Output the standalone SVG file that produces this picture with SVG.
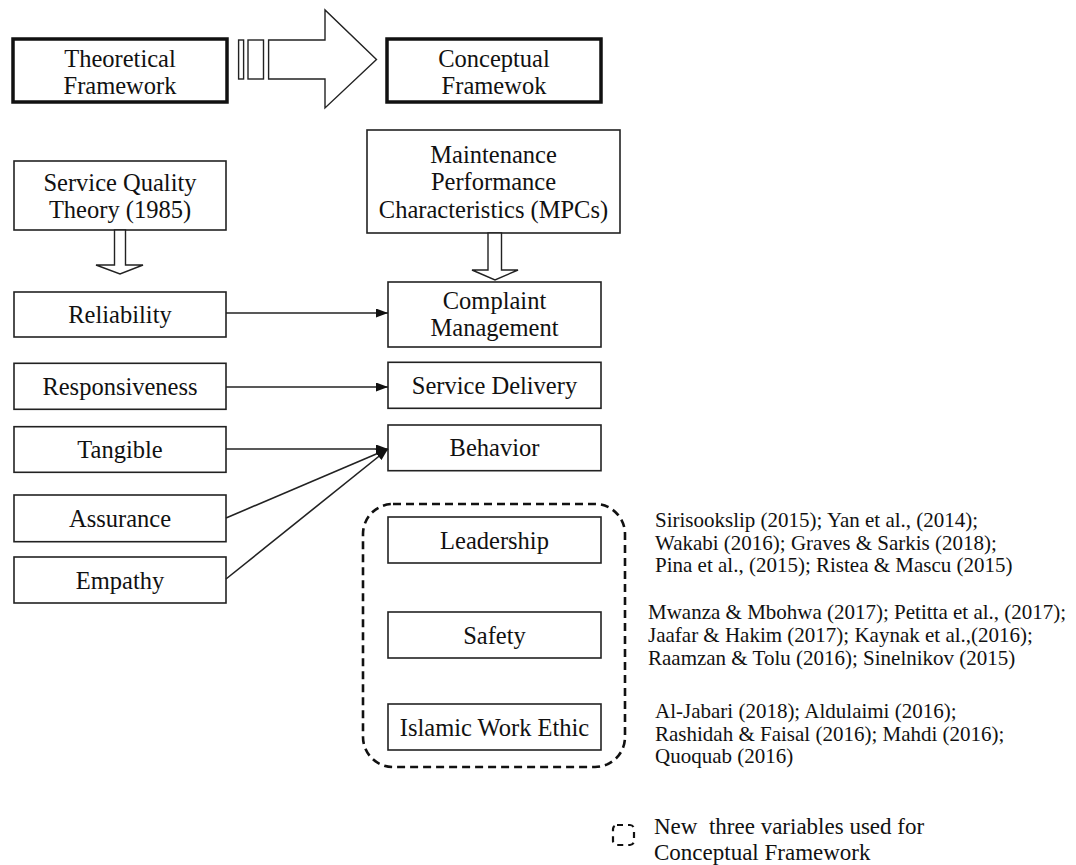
<svg xmlns="http://www.w3.org/2000/svg" width="1076" height="865" viewBox="0 0 1076 865">
<style>
.box{fill:#fff;stroke:#222;stroke-width:1.6}
.thick{fill:#fff;stroke:#111;stroke-width:3.5}
.lbl{font-family:"Liberation Serif","Times New Roman",serif;font-size:24.5px;fill:#111;text-anchor:middle}
.cit{font-family:"Liberation Serif","Times New Roman",serif;font-size:21px;fill:#111}
.leg{font-family:"Liberation Serif","Times New Roman",serif;font-size:23px;fill:#111}
.conn{stroke:#222;stroke-width:1.6;fill:none}
.block{fill:#fff;stroke:#222;stroke-width:1.4}
.dash{fill:none;stroke:#111;stroke-width:2.6;stroke-dasharray:8 5}
.dashs{fill:none;stroke:#111;stroke-width:2.2;stroke-dasharray:6 5}
</style>
<defs>
<marker id="ah" viewBox="0 0 12 9" refX="12" refY="4.5" markerWidth="12" markerHeight="9" markerUnits="userSpaceOnUse" orient="auto">
<path d="M0,0 L12,4.5 L0,9 z" fill="#111"/>
</marker>
</defs>

<g id="theoretical">
<rect class="thick" x="13" y="39" width="214" height="63"/>
<text class="lbl" x="120" y="67">Theoretical</text>
<text class="lbl" x="120" y="94">Framework</text>
</g>

<g id="big-arrow">
<rect class="block" x="238.6" y="40" width="5" height="39"/>
<rect class="block" x="248" y="40" width="15.5" height="39"/>
<path class="block" d="M268.6,40 L325,40 L325,10 L376.5,59.5 L325,108 L325,79 L268.6,79 z"/>
</g>

<g id="conceptual">
<rect class="thick" x="387" y="39" width="214" height="63"/>
<text class="lbl" x="494" y="67">Conceptual</text>
<text class="lbl" x="494" y="94">Framewok</text>
</g>

<g id="sq-theory">
<rect class="box" x="14" y="161" width="212" height="69"/>
<text class="lbl" x="120" y="190.5">Service Quality</text>
<text class="lbl" x="120" y="217.5">Theory (1985)</text>
</g>

<g id="sq-arrow">
<path class="block" d="M114.5,230 L125.5,230 L125.5,265 L143,265 L120,274 L96,265 L114.5,265 z"/>
</g>

<g id="mpc">
<rect class="box" x="367" y="130" width="253" height="103"/>
<text class="lbl" x="493.5" y="162.5">Maintenance</text>
<text class="lbl" x="493.5" y="190">Performance</text>
<text class="lbl" x="493.5" y="217.5">Characteristics (MPCs)</text>
</g>

<g id="mpc-arrow">
<path class="block" d="M488,233 L501.5,233 L501.5,270 L518,270 L495,280 L472,270 L488,270 z"/>
</g>

<g id="reliability">
<rect class="box" x="14" y="292" width="212" height="45"/>
<text class="lbl" x="120" y="322.7">Reliability</text>
</g>

<g id="complaint">
<rect class="box" x="388" y="282" width="213" height="65"/>
<text class="lbl" x="494.5" y="308.5">Complaint</text>
<text class="lbl" x="494.5" y="335.5">Management</text>
</g>

<g id="responsiveness">
<rect class="box" x="14" y="363.3" width="212" height="46"/>
<text class="lbl" x="120" y="394.8">Responsiveness</text>
</g>

<g id="service-delivery">
<rect class="box" x="388" y="362.3" width="213" height="46"/>
<text class="lbl" x="494.5" y="393.8">Service Delivery</text>
</g>

<g id="tangible">
<rect class="box" x="14" y="426.7" width="212" height="45.6"/>
<text class="lbl" x="120" y="458">Tangible</text>
</g>

<g id="behavior">
<rect class="box" x="388" y="425" width="213" height="45.7"/>
<text class="lbl" x="494.5" y="456.4">Behavior</text>
</g>

<g id="assurance">
<rect class="box" x="14" y="495" width="212" height="46.7"/>
<text class="lbl" x="120" y="526.8">Assurance</text>
</g>

<g id="empathy">
<rect class="box" x="14" y="557" width="212" height="46"/>
<text class="lbl" x="120" y="588.5">Empathy</text>
</g>

<g id="new-variables">
<rect class="dash" x="363" y="504" width="262" height="263" rx="30" ry="30"/>
</g>

<g id="leadership">
<rect class="box" x="388" y="517" width="213" height="46"/>
<text class="lbl" x="494.5" y="548.5">Leadership</text>
</g>

<g id="safety">
<rect class="box" x="388" y="612" width="213" height="46"/>
<text class="lbl" x="494.5" y="643.5">Safety</text>
</g>

<g id="iwe">
<rect class="box" x="388" y="704" width="213" height="46"/>
<text class="lbl" x="494.5" y="735.5">Islamic Work Ethic</text>
</g>

<g id="refs-leadership">
<text class="cit" x="655" y="527">Sirisookslip (2015); Yan et al., (2014);</text>
<text class="cit" x="655" y="549.5">Wakabi (2016); Graves &amp; Sarkis (2018);</text>
<text class="cit" x="655" y="572">Pina et al., (2015); Ristea &amp; Mascu (2015)</text>
</g>

<g id="refs-safety">
<text class="cit" x="648" y="619">Mwanza &amp; Mbohwa (2017); Petitta et al., (2017);</text>
<text class="cit" x="648" y="641.5">Jaafar &amp; Hakim (2017); Kaynak et al.,(2016);</text>
<text class="cit" x="648" y="664.5">Raamzan &amp; Tolu (2016); Sinelnikov (2015)</text>
</g>

<g id="refs-iwe">
<text class="cit" x="655" y="718">Al-Jabari (2018); Aldulaimi (2016);</text>
<text class="cit" x="655" y="740.5">Rashidah &amp; Faisal (2016); Mahdi (2016);</text>
<text class="cit" x="655" y="763">Quoquab (2016)</text>
</g>

<g id="legend">
<rect class="dashs" x="613" y="825" width="21" height="20" rx="4" ry="4"/>
<text class="leg" x="654" y="834" xml:space="preserve">New  three variables used for</text>
<text class="leg" x="654" y="860">Conceptual Framework</text>
</g>

<g id="connectors">
<line class="conn" x1="226" y1="313" x2="388" y2="313" marker-end="url(#ah)"/>
<line class="conn" x1="226" y1="387" x2="388" y2="387" marker-end="url(#ah)"/>
<line class="conn" x1="226" y1="449" x2="388" y2="449" marker-end="url(#ah)"/>
<line class="conn" x1="226" y1="518" x2="388" y2="449" marker-end="url(#ah)"/>
<line class="conn" x1="226" y1="579" x2="388" y2="449" marker-end="url(#ah)"/>
</g>
</svg>
